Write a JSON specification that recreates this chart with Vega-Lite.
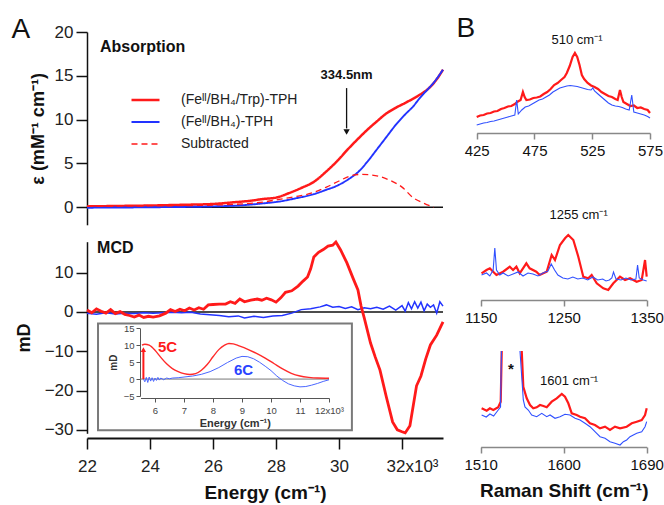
{
"$schema": "https://vega.github.io/schema/vega-lite/v6.json",
"width": 664, "height": 505, "autosize": {"type": "none"}, "padding": 0,
"background": "white",
"config": {"font": "Liberation Sans", "view": {"stroke": null}, "axis": {"grid": false, "labelFont": "Liberation Sans", "titleFont": "Liberation Sans", "labelOverlap": false, "labelFlush": false}, "text": {"font": "Liberation Sans"}},
"resolve": {"scale": {"x": "independent", "y": "independent", "color": "independent", "strokeDash": "independent", "strokeWidth": "independent"}, "axis": {"x": "independent", "y": "independent"}},
"datasets": {
"one": [{}],
"abs": [
{"e":22.0,"v":0.1,"s":"(Feᴵᴵ/BH₄/Trp)-TPH"},{"e":23.0,"v":0.15,"s":"(Feᴵᴵ/BH₄/Trp)-TPH"},{"e":24.0,"v":0.2,"s":"(Feᴵᴵ/BH₄/Trp)-TPH"},{"e":25.0,"v":0.28,"s":"(Feᴵᴵ/BH₄/Trp)-TPH"},{"e":26.0,"v":0.38,"s":"(Feᴵᴵ/BH₄/Trp)-TPH"},{"e":26.6,"v":0.55,"s":"(Feᴵᴵ/BH₄/Trp)-TPH"},{"e":27.2,"v":0.75,"s":"(Feᴵᴵ/BH₄/Trp)-TPH"},{"e":27.6,"v":0.95,"s":"(Feᴵᴵ/BH₄/Trp)-TPH"},{"e":28.0,"v":1.1,"s":"(Feᴵᴵ/BH₄/Trp)-TPH"},{"e":28.4,"v":1.6,"s":"(Feᴵᴵ/BH₄/Trp)-TPH"},{"e":28.8,"v":2.2,"s":"(Feᴵᴵ/BH₄/Trp)-TPH"},{"e":29.2,"v":2.9,"s":"(Feᴵᴵ/BH₄/Trp)-TPH"},{"e":29.6,"v":4.1,"s":"(Feᴵᴵ/BH₄/Trp)-TPH"},{"e":30.0,"v":5.5,"s":"(Feᴵᴵ/BH₄/Trp)-TPH"},{"e":30.25,"v":6.5,"s":"(Feᴵᴵ/BH₄/Trp)-TPH"},{"e":30.6,"v":7.8,"s":"(Feᴵᴵ/BH₄/Trp)-TPH"},{"e":30.9,"v":8.85,"s":"(Feᴵᴵ/BH₄/Trp)-TPH"},{"e":31.2,"v":9.8,"s":"(Feᴵᴵ/BH₄/Trp)-TPH"},{"e":31.5,"v":10.7,"s":"(Feᴵᴵ/BH₄/Trp)-TPH"},{"e":31.8,"v":11.35,"s":"(Feᴵᴵ/BH₄/Trp)-TPH"},{"e":32.15,"v":12.0,"s":"(Feᴵᴵ/BH₄/Trp)-TPH"},{"e":32.5,"v":12.7,"s":"(Feᴵᴵ/BH₄/Trp)-TPH"},{"e":32.9,"v":13.75,"s":"(Feᴵᴵ/BH₄/Trp)-TPH"},{"e":33.1,"v":14.6,"s":"(Feᴵᴵ/BH₄/Trp)-TPH"},{"e":33.3,"v":15.7,"s":"(Feᴵᴵ/BH₄/Trp)-TPH"},
{"e":22.0,"v":-0.05,"s":"(Feᴵᴵ/BH₄)-TPH"},{"e":24.0,"v":0.0,"s":"(Feᴵᴵ/BH₄)-TPH"},{"e":26.0,"v":0.1,"s":"(Feᴵᴵ/BH₄)-TPH"},{"e":27.0,"v":0.25,"s":"(Feᴵᴵ/BH₄)-TPH"},{"e":27.6,"v":0.45,"s":"(Feᴵᴵ/BH₄)-TPH"},{"e":28.1,"v":0.65,"s":"(Feᴵᴵ/BH₄)-TPH"},{"e":28.6,"v":1.0,"s":"(Feᴵᴵ/BH₄)-TPH"},{"e":29.2,"v":1.5,"s":"(Feᴵᴵ/BH₄)-TPH"},{"e":29.6,"v":2.0,"s":"(Feᴵᴵ/BH₄)-TPH"},{"e":29.9,"v":2.4,"s":"(Feᴵᴵ/BH₄)-TPH"},{"e":30.3,"v":3.2,"s":"(Feᴵᴵ/BH₄)-TPH"},{"e":30.6,"v":4.0,"s":"(Feᴵᴵ/BH₄)-TPH"},{"e":30.9,"v":5.2,"s":"(Feᴵᴵ/BH₄)-TPH"},{"e":31.2,"v":6.6,"s":"(Feᴵᴵ/BH₄)-TPH"},{"e":31.5,"v":8.0,"s":"(Feᴵᴵ/BH₄)-TPH"},{"e":31.8,"v":9.4,"s":"(Feᴵᴵ/BH₄)-TPH"},{"e":32.1,"v":10.6,"s":"(Feᴵᴵ/BH₄)-TPH"},{"e":32.35,"v":11.5,"s":"(Feᴵᴵ/BH₄)-TPH"},{"e":32.55,"v":12.4,"s":"(Feᴵᴵ/BH₄)-TPH"},{"e":32.8,"v":13.4,"s":"(Feᴵᴵ/BH₄)-TPH"},{"e":33.0,"v":14.2,"s":"(Feᴵᴵ/BH₄)-TPH"},{"e":33.3,"v":15.7,"s":"(Feᴵᴵ/BH₄)-TPH"},
{"e":22.0,"v":0.1,"s":"Subtracted"},{"e":24.0,"v":0.15,"s":"Subtracted"},{"e":26.0,"v":0.25,"s":"Subtracted"},{"e":27.0,"v":0.4,"s":"Subtracted"},{"e":27.6,"v":0.6,"s":"Subtracted"},{"e":28.1,"v":0.9,"s":"Subtracted"},{"e":28.6,"v":1.2,"s":"Subtracted"},{"e":29.2,"v":1.7,"s":"Subtracted"},{"e":29.6,"v":2.3,"s":"Subtracted"},{"e":30.0,"v":3.0,"s":"Subtracted"},{"e":30.3,"v":3.5,"s":"Subtracted"},{"e":30.7,"v":3.75,"s":"Subtracted"},{"e":31.0,"v":3.7,"s":"Subtracted"},{"e":31.3,"v":3.5,"s":"Subtracted"},{"e":31.6,"v":3.1,"s":"Subtracted"},{"e":32.0,"v":2.3,"s":"Subtracted"},{"e":32.35,"v":1.1,"s":"Subtracted"},{"e":32.7,"v":0.45,"s":"Subtracted"},{"e":33.0,"v":0.0,"s":"Subtracted"}
],
"mcdRed": [
{"e":22.0,"v":0.5},{"e":22.15,"v":-0.2},{"e":22.3,"v":0.8},{"e":22.45,"v":0.2},{"e":22.6,"v":-0.3},{"e":22.75,"v":0.6},{"e":22.9,"v":-0.4},{"e":23.05,"v":0.1},{"e":23.2,"v":-0.6},{"e":23.35,"v":-0.9},{"e":23.5,"v":-1.3},{"e":23.65,"v":-0.8},{"e":23.8,"v":-1.4},{"e":23.95,"v":-1.1},{"e":24.1,"v":-1.3},{"e":24.3,"v":-1.0},{"e":24.5,"v":-0.3},{"e":24.65,"v":0.6},{"e":24.8,"v":0.1},{"e":24.95,"v":0.7},{"e":25.1,"v":0.3},{"e":25.25,"v":1.0},{"e":25.4,"v":0.5},{"e":25.55,"v":1.1},{"e":25.7,"v":0.7},{"e":25.85,"v":1.8},{"e":26.0,"v":1.9},{"e":26.2,"v":2.0},{"e":26.4,"v":2.0},{"e":26.55,"v":2.6},{"e":26.7,"v":2.2},{"e":26.85,"v":3.3},{"e":27.0,"v":2.6},{"e":27.2,"v":3.0},{"e":27.4,"v":3.3},{"e":27.55,"v":3.0},{"e":27.7,"v":3.5},{"e":27.85,"v":3.1},{"e":28.0,"v":2.5},{"e":28.15,"v":3.6},{"e":28.3,"v":5.0},{"e":28.5,"v":5.4},{"e":28.7,"v":6.6},{"e":28.85,"v":7.8},{"e":29.0,"v":8.9},{"e":29.1,"v":11.0},{"e":29.2,"v":14.0},{"e":29.35,"v":15.2},{"e":29.5,"v":15.9},{"e":29.65,"v":16.8},{"e":29.8,"v":17.0},{"e":29.9,"v":17.8},{"e":30.05,"v":15.8},{"e":30.25,"v":12.5},{"e":30.45,"v":8.5},{"e":30.6,"v":5.6},{"e":30.7,"v":1.5},{"e":30.8,"v":-1.5},{"e":31.0,"v":-7.9},{"e":31.15,"v":-11.5},{"e":31.3,"v":-14.8},{"e":31.5,"v":-21.6},{"e":31.7,"v":-28.0},{"e":31.85,"v":-30.0},{"e":32.0,"v":-30.5},{"e":32.1,"v":-30.8},{"e":32.25,"v":-29.0},{"e":32.46,"v":-18.8},{"e":32.6,"v":-16.3},{"e":32.75,"v":-12.0},{"e":32.9,"v":-8.4},{"e":33.1,"v":-5.9},{"e":33.3,"v":-2.5}
],
"mcdBlue": [
{"e":22.0,"v":-0.3},{"e":22.3,"v":-0.6},{"e":22.6,"v":-0.2},{"e":22.9,"v":-0.5},{"e":23.2,"v":-0.3},{"e":23.5,"v":-0.4},{"e":23.8,"v":-0.2},{"e":24.1,"v":-0.3},{"e":24.4,"v":-0.2},{"e":24.7,"v":-0.1},{"e":25.0,"v":-0.2},{"e":25.3,"v":-0.1},{"e":25.6,"v":-0.5},{"e":25.9,"v":-0.7},{"e":26.2,"v":-0.9},{"e":26.5,"v":-1.2},{"e":26.8,"v":-1.0},{"e":27.0,"v":-1.5},{"e":27.3,"v":-1.1},{"e":27.6,"v":-1.4},{"e":27.9,"v":-1.0},{"e":28.2,"v":-0.9},{"e":28.5,"v":-0.3},{"e":28.8,"v":0.6},{"e":29.1,"v":0.8},{"e":29.4,"v":1.3},{"e":29.6,"v":1.8},{"e":29.8,"v":1.2},{"e":30.0,"v":1.4},{"e":30.2,"v":0.9},{"e":30.4,"v":1.3},{"e":30.6,"v":0.6},{"e":30.8,"v":1.1},{"e":31.0,"v":0.8},{"e":31.2,"v":1.2},{"e":31.4,"v":0.7},{"e":31.6,"v":1.5},{"e":31.8,"v":0.5},{"e":32.0,"v":1.6},{"e":32.1,"v":0.2},{"e":32.2,"v":2.4},{"e":32.3,"v":0.8},{"e":32.4,"v":2.6},{"e":32.5,"v":1.0},{"e":32.6,"v":2.5},{"e":32.7,"v":0.3},{"e":32.8,"v":2.0},{"e":32.9,"v":1.2},{"e":33.0,"v":1.8},{"e":33.1,"v":-0.3},{"e":33.2,"v":2.6},{"e":33.3,"v":1.5}
],
"insRed": [
{"e":5.55,"v":10.0},{"e":5.65,"v":10.3},{"e":5.8,"v":10.0},{"e":6.0,"v":8.5},{"e":6.2,"v":6.4},{"e":6.4,"v":4.5},{"e":6.6,"v":3.1},{"e":6.8,"v":2.2},{"e":7.0,"v":1.6},{"e":7.2,"v":1.35},{"e":7.4,"v":1.6},{"e":7.6,"v":2.6},{"e":7.8,"v":4.3},{"e":8.0,"v":6.6},{"e":8.2,"v":8.7},{"e":8.4,"v":10.0},{"e":8.55,"v":10.5},{"e":8.7,"v":10.4},{"e":8.9,"v":9.8},{"e":9.2,"v":8.8},{"e":9.5,"v":7.6},{"e":9.8,"v":6.2},{"e":10.1,"v":4.6},{"e":10.4,"v":3.0},{"e":10.7,"v":1.7},{"e":11.0,"v":0.9},{"e":11.3,"v":0.5},{"e":11.6,"v":0.3},{"e":12.0,"v":0.25}
],
"insBlue": [
{"e":5.6,"v":0.0},{"e":5.65,"v":-0.8},{"e":5.7,"v":0.5},{"e":5.75,"v":-1.0},{"e":5.8,"v":0.6},{"e":5.85,"v":-0.6},{"e":5.9,"v":0.4},{"e":5.95,"v":-0.7},{"e":6.0,"v":0.3},{"e":6.05,"v":-0.4},{"e":6.1,"v":0.5},{"e":6.15,"v":-0.3},{"e":6.2,"v":0.3},{"e":6.3,"v":-0.2},{"e":6.4,"v":0.3},{"e":6.5,"v":0.1},{"e":6.6,"v":0.3},{"e":6.8,"v":0.4},{"e":7.0,"v":0.6},{"e":7.3,"v":0.9},{"e":7.6,"v":1.4},{"e":7.9,"v":2.2},{"e":8.2,"v":3.4},{"e":8.5,"v":4.9},{"e":8.8,"v":6.2},{"e":9.0,"v":6.7},{"e":9.2,"v":6.6},{"e":9.4,"v":6.0},{"e":9.6,"v":5.0},{"e":9.8,"v":3.8},{"e":10.0,"v":2.5},{"e":10.2,"v":0.9},{"e":10.4,"v":-0.4},{"e":10.6,"v":-1.4},{"e":10.8,"v":-2.0},{"e":11.0,"v":-2.3},{"e":11.2,"v":-2.2},{"e":11.4,"v":-1.8},{"e":11.6,"v":-1.3},{"e":11.8,"v":-0.7},{"e":12.0,"v":-0.2}
],
"r1": [
{"w":425,"v":16,"s":"red"},{"w":428,"v":17.5,"s":"red"},{"w":431,"v":18,"s":"red"},{"w":434,"v":19.5,"s":"red"},{"w":437,"v":20,"s":"red"},{"w":440,"v":21.5,"s":"red"},{"w":443,"v":22,"s":"red"},{"w":446,"v":24,"s":"red"},{"w":449,"v":25,"s":"red"},{"w":452,"v":26.5,"s":"red"},{"w":455,"v":27,"s":"red"},{"w":458,"v":29,"s":"red"},{"w":460,"v":31,"s":"red"},{"w":463,"v":33,"s":"red"},{"w":465,"v":41,"s":"red"},{"w":466.5,"v":36,"s":"red"},{"w":468,"v":33,"s":"red"},{"w":471,"v":33.5,"s":"red"},{"w":474,"v":35,"s":"red"},{"w":477,"v":35.5,"s":"red"},{"w":480,"v":36.5,"s":"red"},{"w":483,"v":39,"s":"red"},{"w":486,"v":41,"s":"red"},{"w":489,"v":44,"s":"red"},{"w":492,"v":48,"s":"red"},{"w":495,"v":50,"s":"red"},{"w":498,"v":53,"s":"red"},{"w":501,"v":56,"s":"red"},{"w":503,"v":60,"s":"red"},{"w":505.5,"v":67,"s":"red"},{"w":508,"v":76,"s":"red"},{"w":510,"v":80,"s":"red"},{"w":512,"v":76,"s":"red"},{"w":514,"v":68,"s":"red"},{"w":516,"v":58,"s":"red"},{"w":518,"v":54,"s":"red"},{"w":521,"v":50,"s":"red"},{"w":524,"v":47.5,"s":"red"},{"w":527,"v":46,"s":"red"},{"w":530,"v":44,"s":"red"},{"w":533,"v":41,"s":"red"},{"w":536,"v":39,"s":"red"},{"w":539,"v":37,"s":"red"},{"w":542,"v":36,"s":"red"},{"w":545,"v":34,"s":"red"},{"w":547,"v":33,"s":"red"},{"w":549,"v":43,"s":"red"},{"w":550.5,"v":36,"s":"red"},{"w":552,"v":31,"s":"red"},{"w":555,"v":29,"s":"red"},{"w":558,"v":27,"s":"red"},{"w":561,"v":27.5,"s":"red"},{"w":564,"v":25,"s":"red"},{"w":567,"v":25.5,"s":"red"},{"w":570,"v":24,"s":"red"},{"w":573,"v":23,"s":"red"},{"w":575,"v":20,"s":"red"},
{"w":425,"v":8,"s":"blue"},{"w":428,"v":9,"s":"blue"},{"w":431,"v":10,"s":"blue"},{"w":434,"v":10.5,"s":"blue"},{"w":437,"v":11.5,"s":"blue"},{"w":440,"v":12,"s":"blue"},{"w":443,"v":13,"s":"blue"},{"w":446,"v":14,"s":"blue"},{"w":449,"v":15,"s":"blue"},{"w":452,"v":16,"s":"blue"},{"w":455,"v":17,"s":"blue"},{"w":458,"v":18,"s":"blue"},{"w":459.6,"v":33,"s":"blue"},{"w":461,"v":19,"s":"blue"},{"w":464,"v":23,"s":"blue"},{"w":467,"v":26,"s":"blue"},{"w":470,"v":27,"s":"blue"},{"w":473,"v":29,"s":"blue"},{"w":476,"v":31,"s":"blue"},{"w":479,"v":33,"s":"blue"},{"w":482,"v":34,"s":"blue"},{"w":485,"v":36,"s":"blue"},{"w":488,"v":38,"s":"blue"},{"w":491,"v":41,"s":"blue"},{"w":494,"v":43,"s":"blue"},{"w":497,"v":45,"s":"blue"},{"w":500,"v":46,"s":"blue"},{"w":503,"v":47,"s":"blue"},{"w":506,"v":47.5,"s":"blue"},{"w":509,"v":47,"s":"blue"},{"w":512,"v":46.5,"s":"blue"},{"w":515,"v":45.5,"s":"blue"},{"w":518,"v":44.5,"s":"blue"},{"w":521,"v":43.5,"s":"blue"},{"w":524,"v":43,"s":"blue"},{"w":525.5,"v":45,"s":"blue"},{"w":527,"v":42,"s":"blue"},{"w":530,"v":39,"s":"blue"},{"w":533,"v":36,"s":"blue"},{"w":536,"v":33,"s":"blue"},{"w":539,"v":30,"s":"blue"},{"w":542,"v":28,"s":"blue"},{"w":545,"v":27,"s":"blue"},{"w":548,"v":26.5,"s":"blue"},{"w":551,"v":25.5,"s":"blue"},{"w":554,"v":24,"s":"blue"},{"w":557,"v":23,"s":"blue"},{"w":559.2,"v":38,"s":"blue"},{"w":561,"v":21,"s":"blue"},{"w":564,"v":20,"s":"blue"},{"w":567,"v":19,"s":"blue"},{"w":570,"v":18,"s":"blue"},{"w":573,"v":16.5,"s":"blue"},{"w":575,"v":15,"s":"blue"}
],
"r2": [
{"w":1151,"v":26.7,"s":"red"},{"w":1157,"v":30,"s":"red"},{"w":1161,"v":31.7,"s":"red"},{"w":1165,"v":28.3,"s":"red"},{"w":1169,"v":25,"s":"red"},{"w":1177,"v":28.3,"s":"red"},{"w":1185,"v":33.3,"s":"red"},{"w":1189,"v":30,"s":"red"},{"w":1193,"v":33.3,"s":"red"},{"w":1197,"v":26.7,"s":"red"},{"w":1205,"v":36.7,"s":"red"},{"w":1209,"v":31.7,"s":"red"},{"w":1217,"v":28.3,"s":"red"},{"w":1221,"v":25,"s":"red"},{"w":1229.5,"v":28.3,"s":"red"},{"w":1235.5,"v":45,"s":"red"},{"w":1239.5,"v":40,"s":"red"},{"w":1245.5,"v":55,"s":"red"},{"w":1251.6,"v":61.7,"s":"red"},{"w":1255.5,"v":65,"s":"red"},{"w":1261.6,"v":60,"s":"red"},{"w":1267.6,"v":43.3,"s":"red"},{"w":1273.6,"v":23.3,"s":"red"},{"w":1279.6,"v":21.7,"s":"red"},{"w":1283.7,"v":25,"s":"red"},{"w":1289.8,"v":16.7,"s":"red"},{"w":1297.7,"v":11.7,"s":"red"},{"w":1303.7,"v":10,"s":"red"},{"w":1309.8,"v":16.7,"s":"red"},{"w":1317.8,"v":23.3,"s":"red"},{"w":1323.9,"v":20,"s":"red"},{"w":1329.9,"v":21.7,"s":"red"},{"w":1337.9,"v":18.3,"s":"red"},{"w":1344,"v":20,"s":"red"},{"w":1348,"v":40,"s":"red"},{"w":1350,"v":23.3,"s":"red"},
{"w":1151,"v":25,"s":"blue"},{"w":1157,"v":27,"s":"blue"},{"w":1161,"v":24,"s":"blue"},{"w":1165,"v":30,"s":"blue"},{"w":1167,"v":52,"s":"blue"},{"w":1169,"v":30,"s":"blue"},{"w":1173,"v":25,"s":"blue"},{"w":1177,"v":27,"s":"blue"},{"w":1183,"v":24,"s":"blue"},{"w":1189,"v":26,"s":"blue"},{"w":1195,"v":28,"s":"blue"},{"w":1201,"v":24,"s":"blue"},{"w":1207,"v":27,"s":"blue"},{"w":1213,"v":26,"s":"blue"},{"w":1219,"v":24,"s":"blue"},{"w":1225,"v":27,"s":"blue"},{"w":1231,"v":29,"s":"blue"},{"w":1235,"v":36,"s":"blue"},{"w":1239,"v":30,"s":"blue"},{"w":1243,"v":25,"s":"blue"},{"w":1249,"v":22,"s":"blue"},{"w":1255,"v":21,"s":"blue"},{"w":1261,"v":23,"s":"blue"},{"w":1267,"v":21,"s":"blue"},{"w":1273,"v":22,"s":"blue"},{"w":1279,"v":20,"s":"blue"},{"w":1285,"v":23,"s":"blue"},{"w":1291,"v":20,"s":"blue"},{"w":1297,"v":21,"s":"blue"},{"w":1301,"v":19,"s":"blue"},{"w":1305,"v":20,"s":"blue"},{"w":1308,"v":22,"s":"blue"},{"w":1310,"v":28,"s":"blue"},{"w":1313,"v":21,"s":"blue"},{"w":1319,"v":20,"s":"blue"},{"w":1325,"v":22,"s":"blue"},{"w":1331,"v":20,"s":"blue"},{"w":1337,"v":21,"s":"blue"},{"w":1339,"v":35,"s":"blue"},{"w":1341,"v":22,"s":"blue"},{"w":1346,"v":20,"s":"blue"},{"w":1350,"v":19,"s":"blue"}
],
"r3": [
{"w":1511,"v":38.7,"s":"red","g":"r1"},{"w":1516.5,"v":36.3,"s":"red","g":"r1"},{"w":1520,"v":38.7,"s":"red","g":"r1"},{"w":1523.7,"v":37,"s":"red","g":"r1"},{"w":1529,"v":39.7,"s":"red","g":"r1"},{"w":1531.7,"v":45.3,"s":"red","g":"r1"},{"w":1532.8,"v":96,"s":"red","g":"r1"},
{"w":1554.5,"v":96,"s":"red","g":"r2"},{"w":1556.2,"v":60.3,"s":"red","g":"r2"},{"w":1559.9,"v":48.7,"s":"red","g":"r2"},{"w":1563.5,"v":42,"s":"red","g":"r2"},{"w":1567,"v":38.7,"s":"red","g":"r2"},{"w":1570.7,"v":39.7,"s":"red","g":"r2"},{"w":1574.3,"v":42,"s":"red","g":"r2"},{"w":1578,"v":41,"s":"red","g":"r2"},{"w":1581.6,"v":39.7,"s":"red","g":"r2"},{"w":1587,"v":45.3,"s":"red","g":"r2"},{"w":1592.4,"v":48.7,"s":"red","g":"r2"},{"w":1597.9,"v":53,"s":"red","g":"r2"},{"w":1601.4,"v":50.3,"s":"red","g":"r2"},{"w":1605,"v":43.7,"s":"red","g":"r2"},{"w":1608.7,"v":33.7,"s":"red","g":"r2"},{"w":1614.1,"v":32,"s":"red","g":"r2"},{"w":1617.7,"v":30.3,"s":"red","g":"r2"},{"w":1623.1,"v":28.7,"s":"red","g":"r2"},{"w":1628.5,"v":23.7,"s":"red","g":"r2"},{"w":1633.9,"v":22,"s":"red","g":"r2"},{"w":1639.4,"v":18.7,"s":"red","g":"r2"},{"w":1644.8,"v":20.3,"s":"red","g":"r2"},{"w":1650.2,"v":17,"s":"red","g":"r2"},{"w":1655.6,"v":20.3,"s":"red","g":"r2"},{"w":1661.1,"v":18.7,"s":"red","g":"r2"},{"w":1668.3,"v":20.3,"s":"red","g":"r2"},{"w":1673.8,"v":23.7,"s":"red","g":"r2"},{"w":1679.2,"v":25.3,"s":"red","g":"r2"},{"w":1684.6,"v":27,"s":"red","g":"r2"},{"w":1688.2,"v":32,"s":"red","g":"r2"},{"w":1690,"v":38.7,"s":"red","g":"r2"},
{"w":1511,"v":32,"s":"blue","g":"b1"},{"w":1516,"v":30,"s":"blue","g":"b1"},{"w":1520,"v":33,"s":"blue","g":"b1"},{"w":1524,"v":31,"s":"blue","g":"b1"},{"w":1529,"v":37,"s":"blue","g":"b1"},{"w":1531.5,"v":40,"s":"blue","g":"b1"},{"w":1532.5,"v":96,"s":"blue","g":"b1"},
{"w":1552.6,"v":96,"s":"blue","g":"b2"},{"w":1556.2,"v":47,"s":"blue","g":"b2"},{"w":1558,"v":40,"s":"blue","g":"b2"},{"w":1561.6,"v":37,"s":"blue","g":"b2"},{"w":1565.3,"v":32,"s":"blue","g":"b2"},{"w":1570.7,"v":30.3,"s":"blue","g":"b2"},{"w":1576.2,"v":33.7,"s":"blue","g":"b2"},{"w":1581.6,"v":30.3,"s":"blue","g":"b2"},{"w":1585.2,"v":32,"s":"blue","g":"b2"},{"w":1590.6,"v":28.7,"s":"blue","g":"b2"},{"w":1596,"v":30.3,"s":"blue","g":"b2"},{"w":1601.4,"v":32.7,"s":"blue","g":"b2"},{"w":1606.8,"v":32,"s":"blue","g":"b2"},{"w":1612.3,"v":28.7,"s":"blue","g":"b2"},{"w":1617.7,"v":27,"s":"blue","g":"b2"},{"w":1623.1,"v":23.7,"s":"blue","g":"b2"},{"w":1628.5,"v":20.3,"s":"blue","g":"b2"},{"w":1633.9,"v":15.3,"s":"blue","g":"b2"},{"w":1639.4,"v":10.3,"s":"blue","g":"b2"},{"w":1644.8,"v":8.7,"s":"blue","g":"b2"},{"w":1650.2,"v":5.3,"s":"blue","g":"b2"},{"w":1655.6,"v":3.7,"s":"blue","g":"b2"},{"w":1661.1,"v":2,"s":"blue","g":"b2"},{"w":1664.7,"v":5.3,"s":"blue","g":"b2"},{"w":1668.3,"v":7,"s":"blue","g":"b2"},{"w":1671.9,"v":10.3,"s":"blue","g":"b2"},{"w":1675.5,"v":12,"s":"blue","g":"b2"},{"w":1679.2,"v":13.7,"s":"blue","g":"b2"},{"w":1684.6,"v":15.3,"s":"blue","g":"b2"},{"w":1688.2,"v":20.3,"s":"blue","g":"b2"},{"w":1690,"v":25.3,"s":"blue","g":"b2"}
]
},
"layer": [
{"data": {"name": "one"}, "mark": {"type": "rule", "stroke": "#111", "strokeWidth": 1.5},
 "encoding": {"x": {"datum": 22, "type": "quantitative", "scale": {"domain": [22, 33.3], "range": [87, 443], "nice": false, "zero": false}, "axis": null},
  "x2": {"datum": 33.3},
  "y": {"datum": 0, "type": "quantitative", "scale": {"domain": [-2, 20], "range": [224.8, 32], "nice": false, "zero": false},
   "axis": {"orient": "left", "offset": -87, "values": [0, 5, 10, 15, 20], "title": "ε (mM⁻¹ cm⁻¹)", "titleFontSize": 18, "titleFontWeight": "bold", "titleColor": "#111", "titlePadding": 7, "labelFontSize": 17, "labelColor": "#222", "labelPadding": 3, "tickSize": 11, "tickWidth": 1.5, "tickColor": "#111", "domainColor": "#111", "domainWidth": 1.5}}}},
{"data": {"name": "abs"}, "mark": {"type": "line", "interpolate": "monotone"},
 "encoding": {"x": {"field": "e", "type": "quantitative", "scale": {"domain": [22, 33.3], "range": [87, 443], "nice": false, "zero": false}, "axis": null},
  "y": {"field": "v", "type": "quantitative", "scale": {"domain": [-2, 20], "range": [224.8, 32], "nice": false, "zero": false}, "axis": null},
  "color": {"field": "s", "type": "nominal", "scale": {"domain": ["(Feᴵᴵ/BH₄/Trp)-TPH", "(Feᴵᴵ/BH₄)-TPH", "Subtracted"], "range": ["#ff1a1a", "#2233ff", "#ff1a1a"]},
   "legend": {"orient": "none", "legendX": 130, "legendY": 89, "title": null, "symbolType": "stroke", "symbolSize": 784, "clipHeight": 22, "rowPadding": 0, "labelFontSize": 14, "labelOffset": 20, "labelColor": "#222", "padding": 0, "labelFont": "Liberation Sans"}},
  "strokeDash": {"field": "s", "type": "nominal", "scale": {"domain": ["(Feᴵᴵ/BH₄/Trp)-TPH", "(Feᴵᴵ/BH₄)-TPH", "Subtracted"], "range": [[1, 0], [1, 0], [6, 4]]},
   "legend": {"orient": "none", "legendX": 130, "legendY": 89, "title": null, "symbolType": "stroke", "symbolSize": 784, "clipHeight": 22, "rowPadding": 0, "labelFontSize": 14, "labelOffset": 20, "labelColor": "#222", "padding": 0, "labelFont": "Liberation Sans"}},
  "strokeWidth": {"field": "s", "type": "nominal", "scale": {"domain": ["(Feᴵᴵ/BH₄/Trp)-TPH", "(Feᴵᴵ/BH₄)-TPH", "Subtracted"], "range": [2.5, 1.3, 2.2]},
   "legend": {"orient": "none", "legendX": 130, "legendY": 89, "title": null, "symbolType": "stroke", "symbolSize": 784, "clipHeight": 22, "rowPadding": 0, "labelFontSize": 14, "labelOffset": 20, "labelColor": "#222", "padding": 0, "labelFont": "Liberation Sans"}}}},
{"data": {"name": "one"}, "mark": {"type": "rule", "stroke": "#111", "strokeWidth": 1.3},
 "encoding": {"x": {"datum": 30.24, "type": "quantitative", "scale": {"domain": [22, 33.3], "range": [87, 443], "nice": false, "zero": false}, "axis": null},
  "y": {"datum": 13.6, "type": "quantitative", "scale": {"domain": [-2, 20], "range": [224.8, 32], "nice": false, "zero": false}, "axis": null},
  "y2": {"datum": 9.0}}},
{"data": {"name": "one"}, "mark": {"type": "point", "shape": "triangle-down", "filled": true, "fill": "#111", "size": 40, "opacity": 1},
 "encoding": {"x": {"datum": 30.24, "type": "quantitative", "scale": {"domain": [22, 33.3], "range": [87, 443], "nice": false, "zero": false}, "axis": null},
  "y": {"datum": 8.6, "type": "quantitative", "scale": {"domain": [-2, 20], "range": [224.8, 32], "nice": false, "zero": false}, "axis": null}}},
{"data": {"name": "one"}, "mark": {"type": "text", "text": "334.5nm", "fontWeight": "bold", "fontSize": 13, "fill": "#111", "align": "center", "baseline": "middle"},
 "encoding": {"x": {"datum": 30.24, "type": "quantitative", "scale": {"domain": [22, 33.3], "range": [87, 443], "nice": false, "zero": false}, "axis": null},
  "y": {"datum": 15.1, "type": "quantitative", "scale": {"domain": [-2, 20], "range": [224.8, 32], "nice": false, "zero": false}, "axis": null}}},
{"data": {"name": "one"}, "mark": {"type": "text", "text": "Absorption", "fontWeight": "bold", "fontSize": 16, "fill": "#111", "align": "left", "baseline": "middle"},
 "encoding": {"x": {"datum": 22.41, "type": "quantitative", "scale": {"domain": [22, 33.3], "range": [87, 443], "nice": false, "zero": false}, "axis": null},
  "y": {"datum": 18.3, "type": "quantitative", "scale": {"domain": [-2, 20], "range": [224.8, 32], "nice": false, "zero": false}, "axis": null}}},
{"data": {"name": "one"}, "mark": {"type": "text", "text": "A", "fontSize": 28, "fill": "#111", "align": "center", "baseline": "middle"},
 "encoding": {"x": {"datum": 19.9, "type": "quantitative", "scale": {"domain": [22, 33.3], "range": [87, 443], "nice": false, "zero": false}, "axis": null},
  "y": {"datum": 20.2, "type": "quantitative", "scale": {"domain": [-2, 20], "range": [224.8, 32], "nice": false, "zero": false}, "axis": null}}},
{"data": {"name": "one"}, "mark": {"type": "rule", "stroke": "#111", "strokeWidth": 1.5},
 "encoding": {"x": {"datum": 22, "type": "quantitative", "scale": {"domain": [22, 33.3], "range": [87, 443], "nice": false, "zero": false},
   "axis": {"orient": "bottom", "offset": -67, "values": [22, 24, 26, 28, 30, 32], "labelExpr": "datum.value == 32 ? '32x10³' : datum.label", "labelAlign": {"condition": {"test": "datum.value == 32", "value": "left"}, "value": "center"}, "labelOffset": {"condition": {"test": "datum.value == 32", "value": -16}, "value": 0}, "title": "Energy (cm⁻¹)", "titleFontSize": 19, "titleFontWeight": "bold", "titleColor": "#111", "titlePadding": 9, "labelFontSize": 17, "labelColor": "#222", "labelPadding": 9, "tickSize": 11, "tickWidth": 1.5, "tickColor": "#111", "domainColor": "#111", "domainWidth": 2}},
  "x2": {"datum": 33.3},
  "y": {"datum": 0, "type": "quantitative", "scale": {"domain": [-30.9, 17.9], "range": [433.3, 241.7], "nice": false, "zero": false},
   "axis": {"orient": "left", "offset": -87, "values": [-30, -20, -10, 0, 10], "title": "mD", "titleFontSize": 18, "titleFontWeight": "bold", "titleColor": "#111", "titlePadding": 11, "labelFontSize": 17, "labelColor": "#222", "labelPadding": 3, "tickSize": 11, "tickWidth": 1.5, "tickColor": "#111", "domainColor": "#111", "domainWidth": 1.5}}}},
{"data": {"name": "mcdBlue"}, "mark": {"type": "line", "stroke": "#2233ff", "strokeWidth": 1.5},
 "encoding": {"x": {"field": "e", "type": "quantitative", "scale": {"domain": [22, 33.3], "range": [87, 443], "nice": false, "zero": false}, "axis": null},
  "y": {"field": "v", "type": "quantitative", "scale": {"domain": [-30.9, 17.9], "range": [433.3, 241.7], "nice": false, "zero": false}, "axis": null}}},
{"data": {"name": "mcdRed"}, "mark": {"type": "line", "stroke": "#ff1a1a", "strokeWidth": 2.8},
 "encoding": {"x": {"field": "e", "type": "quantitative", "scale": {"domain": [22, 33.3], "range": [87, 443], "nice": false, "zero": false}, "axis": null},
  "y": {"field": "v", "type": "quantitative", "scale": {"domain": [-30.9, 17.9], "range": [433.3, 241.7], "nice": false, "zero": false}, "axis": null}}},
{"data": {"name": "one"}, "mark": {"type": "text", "text": "MCD", "fontWeight": "bold", "fontSize": 16, "fill": "#111", "align": "left", "baseline": "middle"},
 "encoding": {"x": {"datum": 22.32, "type": "quantitative", "scale": {"domain": [22, 33.3], "range": [87, 443], "nice": false, "zero": false}, "axis": null},
  "y": {"datum": 16.3, "type": "quantitative", "scale": {"domain": [-30.9, 17.9], "range": [433.3, 241.7], "nice": false, "zero": false}, "axis": null}}},
{"data": {"name": "one"}, "mark": {"type": "rect", "filled": false, "stroke": "#7a7a7a", "strokeWidth": 2},
 "encoding": {"x": {"datum": 4.035, "type": "quantitative", "scale": {"domain": [5.5, 12], "range": [140.5, 329], "nice": false, "zero": false},
   "axis": {"orient": "bottom", "offset": -107, "values": [6, 7, 8, 9, 10, 11, 12], "labelExpr": "datum.value == 12 ? '12x10³' : datum.label", "title": "Energy (cm⁻¹)", "titleFontSize": 11, "titleFontWeight": "bold", "titleColor": "#333", "titlePadding": 3, "labelFontSize": 9.5, "labelColor": "#444", "labelPadding": 3, "tickSize": 4, "tickWidth": 1, "tickColor": "#555", "domainColor": "#555", "domainWidth": 1}},
  "x2": {"datum": 12.79},
  "y": {"datum": 16.4, "type": "quantitative", "scale": {"domain": [-5, 15], "range": [396, 328.3], "nice": false, "zero": false},
   "axis": {"orient": "left", "offset": -140, "values": [-5, 0, 5, 10, 15], "title": "mD", "titleFontSize": 10, "titleFontWeight": "bold", "titleColor": "#333", "titlePadding": 5, "labelFontSize": 9.5, "labelColor": "#444", "labelPadding": 2, "tickSize": 4, "tickWidth": 1, "tickColor": "#555", "domainColor": "#555", "domainWidth": 1}},
  "y2": {"datum": -15.1}}},
{"data": {"name": "one"}, "mark": {"type": "rule", "stroke": "#777", "strokeWidth": 1},
 "encoding": {"x": {"datum": 5.5, "type": "quantitative", "scale": {"domain": [5.5, 12], "range": [140.5, 329], "nice": false, "zero": false}, "axis": null},
  "x2": {"datum": 12},
  "y": {"datum": 0, "type": "quantitative", "scale": {"domain": [-5, 15], "range": [396, 328.3], "nice": false, "zero": false}, "axis": null}}},
{"data": {"name": "insBlue"}, "mark": {"type": "line", "stroke": "#4a66ff", "strokeWidth": 1},
 "encoding": {"x": {"field": "e", "type": "quantitative", "scale": {"domain": [5.5, 12], "range": [140.5, 329], "nice": false, "zero": false}, "axis": null},
  "y": {"field": "v", "type": "quantitative", "scale": {"domain": [-5, 15], "range": [396, 328.3], "nice": false, "zero": false}, "axis": null}}},
{"data": {"name": "insRed"}, "mark": {"type": "line", "stroke": "#ff2a2a", "strokeWidth": 1.4, "interpolate": "monotone"},
 "encoding": {"x": {"field": "e", "type": "quantitative", "scale": {"domain": [5.5, 12], "range": [140.5, 329], "nice": false, "zero": false}, "axis": null},
  "y": {"field": "v", "type": "quantitative", "scale": {"domain": [-5, 15], "range": [396, 328.3], "nice": false, "zero": false}, "axis": null}}},
{"data": {"name": "one"}, "mark": {"type": "rule", "stroke": "#ff1a1a", "strokeWidth": 2},
 "encoding": {"x": {"datum": 5.6, "type": "quantitative", "scale": {"domain": [5.5, 12], "range": [140.5, 329], "nice": false, "zero": false}, "axis": null},
  "y": {"datum": 0, "type": "quantitative", "scale": {"domain": [-5, 15], "range": [396, 328.3], "nice": false, "zero": false}, "axis": null},
  "y2": {"datum": 8.2}}},
{"data": {"name": "one"}, "mark": {"type": "point", "shape": "triangle-up", "filled": true, "fill": "#ff1a1a", "size": 28, "opacity": 1},
 "encoding": {"x": {"datum": 5.6, "type": "quantitative", "scale": {"domain": [5.5, 12], "range": [140.5, 329], "nice": false, "zero": false}, "axis": null},
  "y": {"datum": 8.7, "type": "quantitative", "scale": {"domain": [-5, 15], "range": [396, 328.3], "nice": false, "zero": false}, "axis": null}}},
{"data": {"name": "one"}, "mark": {"type": "text", "text": "5C", "fontWeight": "bold", "fontSize": 15, "fill": "#ff1a1a", "align": "left", "baseline": "middle"},
 "encoding": {"x": {"datum": 6.1, "type": "quantitative", "scale": {"domain": [5.5, 12], "range": [140.5, 329], "nice": false, "zero": false}, "axis": null},
  "y": {"datum": 9.5, "type": "quantitative", "scale": {"domain": [-5, 15], "range": [396, 328.3], "nice": false, "zero": false}, "axis": null}}},
{"data": {"name": "one"}, "mark": {"type": "text", "text": "6C", "fontWeight": "bold", "fontSize": 15, "fill": "#2a44ff", "align": "left", "baseline": "middle"},
 "encoding": {"x": {"datum": 8.72, "type": "quantitative", "scale": {"domain": [5.5, 12], "range": [140.5, 329], "nice": false, "zero": false}, "axis": null},
  "y": {"datum": 2.66, "type": "quantitative", "scale": {"domain": [-5, 15], "range": [396, 328.3], "nice": false, "zero": false}, "axis": null}}},
{"data": {"name": "r1"}, "mark": {"type": "line"},
 "encoding": {"x": {"field": "w", "type": "quantitative", "scale": {"domain": [425, 575], "range": [476.7, 650], "nice": false, "zero": false},
   "axis": {"orient": "bottom", "offset": -372, "values": [425, 475, 525, 575], "format": "d", "title": null, "labelFontSize": 15, "labelColor": "#111", "labelPadding": 4, "tickSize": 6, "tickWidth": 1.5, "tickColor": "#888", "domainColor": "#888", "domainWidth": 1.5}},
  "y": {"field": "v", "type": "quantitative", "scale": {"domain": [0, 100], "range": [133, 33], "nice": false, "zero": false}, "axis": null},
  "color": {"field": "s", "type": "nominal", "scale": {"domain": ["blue", "red"], "range": ["#3050ff", "#ff1a1a"]}, "legend": null},
  "strokeWidth": {"field": "s", "type": "nominal", "scale": {"domain": ["blue", "red"], "range": [1.1, 2.2]}, "legend": null}}},
{"data": {"name": "one"}, "mark": {"type": "text", "text": "510 cm⁻¹", "fontSize": 13, "fill": "#111", "align": "center", "baseline": "middle"},
 "encoding": {"x": {"datum": 511.8, "type": "quantitative", "scale": {"domain": [425, 575], "range": [476.7, 650], "nice": false, "zero": false}, "axis": null},
  "y": {"datum": 93, "type": "quantitative", "scale": {"domain": [0, 100], "range": [133, 33], "nice": false, "zero": false}, "axis": null}}},
{"data": {"name": "one"}, "mark": {"type": "text", "text": "B", "fontSize": 28, "fill": "#111", "align": "center", "baseline": "middle"},
 "encoding": {"x": {"datum": 415.7, "type": "quantitative", "scale": {"domain": [425, 575], "range": [476.7, 650], "nice": false, "zero": false}, "axis": null},
  "y": {"datum": 104, "type": "quantitative", "scale": {"domain": [0, 100], "range": [133, 33], "nice": false, "zero": false}, "axis": null}}},
{"data": {"name": "r2"}, "mark": {"type": "line"},
 "encoding": {"x": {"field": "w", "type": "quantitative", "scale": {"domain": [1150, 1350], "range": [480.7, 646.7], "nice": false, "zero": false},
   "axis": {"orient": "bottom", "offset": -205, "values": [1150, 1250, 1350], "format": "d", "title": null, "labelFontSize": 15, "labelColor": "#111", "labelPadding": 4, "tickSize": 6, "tickWidth": 1.5, "tickColor": "#888", "domainColor": "#888", "domainWidth": 1.5}},
  "y": {"field": "v", "type": "quantitative", "scale": {"domain": [0, 100], "range": [300, 200], "nice": false, "zero": false}, "axis": null},
  "color": {"field": "s", "type": "nominal", "scale": {"domain": ["blue", "red"], "range": ["#3050ff", "#ff1a1a"]}, "legend": null},
  "strokeWidth": {"field": "s", "type": "nominal", "scale": {"domain": ["blue", "red"], "range": [1.1, 2.2]}, "legend": null}}},
{"data": {"name": "one"}, "mark": {"type": "text", "text": "1255 cm⁻¹", "fontSize": 13, "fill": "#111", "align": "center", "baseline": "middle"},
 "encoding": {"x": {"datum": 1268, "type": "quantitative", "scale": {"domain": [1150, 1350], "range": [480.7, 646.7], "nice": false, "zero": false}, "axis": null},
  "y": {"datum": 85, "type": "quantitative", "scale": {"domain": [0, 100], "range": [300, 200], "nice": false, "zero": false}, "axis": null}}},
{"data": {"name": "r3"}, "mark": {"type": "line"},
 "encoding": {"x": {"field": "w", "type": "quantitative", "scale": {"domain": [1510, 1690], "range": [480.7, 646.7], "nice": false, "zero": false},
   "axis": {"orient": "bottom", "offset": -58, "values": [1510, 1600, 1690], "format": "d", "title": "Raman Shift (cm⁻¹)", "titleFontSize": 19, "titleFontWeight": "bold", "titleColor": "#111", "titlePadding": 9, "labelFontSize": 15, "labelColor": "#111", "labelPadding": 4, "tickSize": 6, "tickWidth": 1.5, "tickColor": "#888", "domainColor": "#888", "domainWidth": 1.5}},
  "y": {"field": "v", "type": "quantitative", "scale": {"domain": [0, 96], "range": [447, 351], "nice": false, "zero": false}, "axis": null},
  "detail": {"field": "g", "type": "nominal"},
  "color": {"field": "s", "type": "nominal", "scale": {"domain": ["blue", "red"], "range": ["#3050ff", "#ff1a1a"]}, "legend": null},
  "strokeWidth": {"field": "s", "type": "nominal", "scale": {"domain": ["blue", "red"], "range": [1.1, 2.2]}, "legend": null}}},
{"data": {"name": "one"}, "mark": {"type": "text", "text": "1601 cm⁻¹", "fontSize": 13, "fill": "#111", "align": "center", "baseline": "middle"},
 "encoding": {"x": {"datum": 1605.8, "type": "quantitative", "scale": {"domain": [1510, 1690], "range": [480.7, 646.7], "nice": false, "zero": false}, "axis": null},
  "y": {"datum": 66, "type": "quantitative", "scale": {"domain": [0, 96], "range": [447, 351], "nice": false, "zero": false}, "axis": null}}},
{"data": {"name": "one"}, "mark": {"type": "text", "text": "*", "fontSize": 15, "fontWeight": "bold", "fill": "#111", "align": "center", "baseline": "middle"},
 "encoding": {"x": {"datum": 1542.9, "type": "quantitative", "scale": {"domain": [1510, 1690], "range": [480.7, 646.7], "nice": false, "zero": false}, "axis": null},
  "y": {"datum": 78, "type": "quantitative", "scale": {"domain": [0, 96], "range": [447, 351], "nice": false, "zero": false}, "axis": null}}}
]
}
